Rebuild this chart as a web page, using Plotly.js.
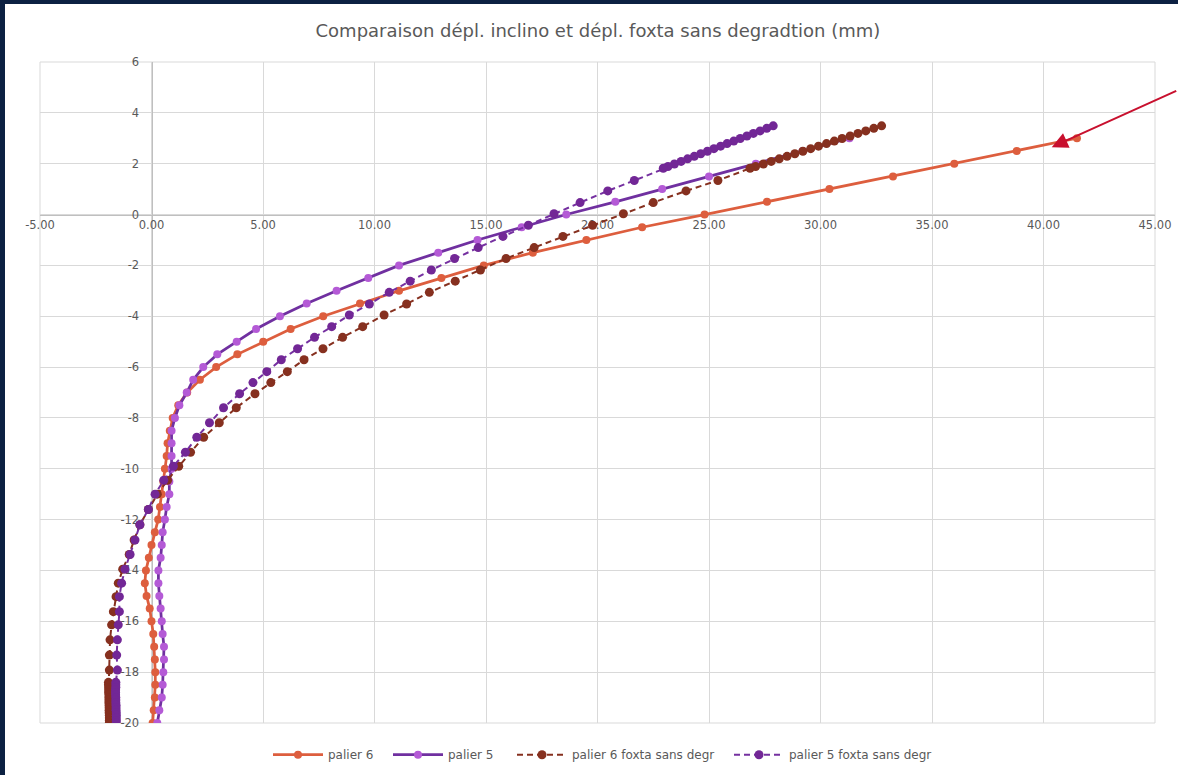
<!DOCTYPE html>
<html>
<head>
<meta charset="utf-8">
<script src="https://cdn.plot.ly/plotly-3.0.1.min.js"></script>
<style>
  html, body { margin: 0; padding: 0; background: #0c2142; }
  #frame { position: relative; width: 1178px; height: 775px; background: #0c2142; overflow: hidden; }
  #chart { position: absolute; left: 5px; top: 4px; width: 1173px; height: 771px; background: #ffffff; }
</style>
</head>
<body>
<div id="frame"><div id="chart"></div></div>
<script>
// ---- Data ----
const seriesNames = ["palier 6", "palier 5", "palier 6 foxta sans degr", "palier 5 foxta sans degr"];

// palier 6 (inclino) : depth (m) and displacement (mm)
const palier6Y = [-20, -19.5, -19, -18.5, -18, -17.5, -17, -16.5, -16, -15.5, -15, -14.5, -14, -13.5, -13, -12.5, -12, -11.5, -11, -10.5, -10, -9.5, -9, -8.5, -8, -7.5, -7, -6.5, -6, -5.5, -5, -4.5, -4, -3.5, -3, -2.5, -2, -1.5, -1, -0.5, 0, 0.5, 1, 1.5, 2, 2.5, 3];
const palier6X = [0.05, 0.1, 0.15, 0.17, 0.17, 0.15, 0.12, 0.08, 0.0, -0.08, -0.22, -0.3, -0.25, -0.12, 0.0, 0.15, 0.3, 0.38, 0.46, 0.53, 0.6, 0.68, 0.72, 0.82, 0.95, 1.2, 1.6, 2.17, 2.9, 3.85, 5.01, 6.24, 7.7, 9.35, 11.1, 13.0, 14.9, 17.1, 19.5, 22.0, 24.8, 27.6, 30.4, 33.25, 36.0, 38.8, 41.5];

// palier 5 (inclino)
const palier5Y = [-20, -19.5, -19, -18.5, -18, -17.5, -17, -16.5, -16, -15.5, -15, -14.5, -14, -13.5, -13, -12.5, -12, -11.5, -11, -10.5, -10, -9.5, -9, -8.5, -8, -7.5, -7, -6.5, -6, -5.5, -5, -4.5, -4, -3.5, -3, -2.5, -2, -1.5, -1, -0.5, 0, 0.5, 1, 1.5, 2, 2.5, 3];
const palier5X = [0.26, 0.35, 0.46, 0.5, 0.53, 0.56, 0.56, 0.5, 0.46, 0.41, 0.35, 0.31, 0.31, 0.41, 0.46, 0.5, 0.6, 0.68, 0.8, 0.8, 0.9, 0.9, 0.9, 0.9, 1.05, 1.25, 1.58, 1.87, 2.32, 2.95, 3.82, 4.69, 5.76, 6.96, 8.3, 9.72, 11.1, 12.86, 14.62, 16.6, 18.6, 20.8, 22.9, 25.0, 27.1, 29.2, 31.3];

// foxta sans dégradation : depths
const foxtaY = [3.49, 3.39, 3.29, 3.19, 3.09, 2.99, 2.89, 2.79, 2.69, 2.59, 2.49, 2.39, 2.29, 2.19, 2.09, 1.99, 1.89, 1.82,
  1.34, 0.93, 0.47, 0.03, -0.42, -0.86, -1.3, -1.73, -2.18, -2.62, -3.06, -3.52, -3.95, -4.41, -4.83, -5.28, -5.71, -6.18, -6.61, -7.05, -7.6, -8.19, -8.76, -9.35, -9.9, -10.45, -11.0, -11.6, -12.2, -12.8, -13.37, -13.95, -14.5, -15.03, -15.62, -16.14, -16.73, -17.33, -17.92,
  -18.4, -18.5, -18.6, -18.7, -18.8, -18.9, -19.0, -19.1, -19.2, -19.3, -19.4, -19.5, -19.6, -19.7, -19.8, -19.9, -20.0];

// palier 6 foxta sans degr
const foxta6X = [32.74, 32.39, 32.03, 31.68, 31.33, 30.97, 30.62, 30.27, 29.91, 29.56, 29.21, 28.85, 28.5, 28.15, 27.79, 27.44, 27.09, 26.84,
  25.4, 23.97, 22.5, 21.16, 19.78, 18.45, 17.16, 15.9, 14.75, 13.62, 12.46, 11.44, 10.43, 9.47, 8.57, 7.69, 6.84, 6.09, 5.35, 4.64, 3.8, 3.04, 2.34, 1.75, 1.22, 0.72, 0.26, -0.14, -0.52, -0.78, -1.0, -1.29, -1.49, -1.59, -1.71, -1.79, -1.86, -1.89, -1.89,
  -1.93, -1.93, -1.92, -1.92, -1.92, -1.91, -1.91, -1.91, -1.91, -1.9, -1.9, -1.9, -1.9, -1.89, -1.89, -1.89, -1.89];

// palier 5 foxta sans degr
const foxta5X = [27.88, 27.59, 27.29, 26.99, 26.7, 26.4, 26.11, 25.81, 25.52, 25.22, 24.93, 24.63, 24.34, 24.04, 23.75, 23.45, 23.16, 22.95,
  21.65, 20.46, 19.22, 18.05, 16.9, 15.76, 14.65, 13.59, 12.55, 11.6, 10.66, 9.77, 8.87, 8.08, 7.31, 6.55, 5.82, 5.17, 4.55, 3.95, 3.23, 2.6, 2.03, 1.52, 0.98, 0.55, 0.16, -0.14, -0.52, -0.74, -0.96, -1.19, -1.34, -1.44, -1.44, -1.49, -1.53, -1.56, -1.53,
  -1.6, -1.6, -1.6, -1.61, -1.61, -1.61, -1.6, -1.6, -1.6, -1.59, -1.59, -1.59, -1.58, -1.58, -1.58, -1.58, -1.58];

// axis ticks
const xTickVals = [-5, 0, 5, 10, 15, 20, 25, 30, 35, 40, 45];
const xTickText = ["-5.00", "0.00", "5.00", "10.00", "15.00", "20.00", "25.00", "30.00", "35.00", "40.00", "45.00"];
const yTickVals = [-20, -18, -16, -14, -12, -10, -8, -6, -4, -2, 0, 2, 4, 6];
const yTickText = ["-20", "-18", "-16", "-14", "-12", "-10", "-8", "-6", "-4", "-2", "0", "2", "4", "6"];

const titleText = "Comparaison dépl. inclino et dépl. foxta sans degradtion (mm)";

// ---- Styles ----
const FONT = "'DejaVu Sans', 'Open Sans', sans-serif";
const GRAY = "#595959";

const traces = [
  { x: palier6X, y: palier6Y, name: seriesNames[0], type: "scatter", mode: "lines+markers", legend: "legend",
    line: { color: "#DD5E3E", width: 2.75 }, marker: { color: "#DD5E3E", size: 8 } },
  { x: palier5X, y: palier5Y, name: seriesNames[1], type: "scatter", mode: "lines+markers", legend: "legend2",
    line: { color: "#7030A0", width: 2.75 }, marker: { color: "#B45AD6", size: 8 } },
  { x: foxta6X, y: foxtaY, name: seriesNames[2], type: "scatter", mode: "lines+markers", legend: "legend3",
    line: { color: "#86301F", width: 2, dash: "6px,4px" }, marker: { color: "#86301F", size: 9 } },
  { x: foxta5X, y: foxtaY, name: seriesNames[3], type: "scatter", mode: "lines+markers", legend: "legend4",
    line: { color: "#7530A0", width: 2, dash: "6px,4px" }, marker: { color: "#722796", size: 9 } }
];

function leg(xpx) {
  // xpx: page x of the legend box left edge; plot area starts at 40 and is 1115 wide
  return { orientation: "h", x: (xpx - 40) / 1115, xanchor: "left", y: -0.048, yanchor: "middle",
           font: { family: FONT, size: 12, color: GRAY }, bgcolor: "rgba(0,0,0,0)", borderwidth: 0,
           itemwidth: 50 };
}

const layout = {
  width: 1173, height: 771,
  margin: { l: 35, r: 23, t: 58, b: 52, autoexpand: false },
  paper_bgcolor: "#ffffff", plot_bgcolor: "#ffffff",
  font: { family: FONT, color: GRAY, size: 11 },
  title: { text: titleText, x: 0.5055, xanchor: "center", y: 0.966, yanchor: "middle",
           font: { family: FONT, size: 18, color: GRAY } },
  showlegend: true,
  legend: leg(268),
  legend2: leg(388),
  legend3: leg(512),
  legend4: leg(729),
  xaxis: {
    range: [-5, 45], tickvals: xTickVals, ticktext: xTickText,
    anchor: "free", position: 20 / 26,
    showline: true, linecolor: "#BFBFBF", linewidth: 1,
    zeroline: false, showgrid: true, gridcolor: "#D9D9D9", gridwidth: 1,
    ticks: "", tickfont: { family: FONT, size: 11.5, color: GRAY },
    layer: "below traces", fixedrange: true
  },
  yaxis: {
    range: [-20, 6], tickvals: yTickVals, ticktext: yTickText,
    anchor: "free", position: 5 / 50, domain: [0, 1],
    showline: true, linecolor: "#BFBFBF", linewidth: 1,
    zeroline: false, showgrid: true, gridcolor: "#D9D9D9", gridwidth: 1,
    ticks: "", ticklabelstandoff: 10, tickfont: { family: FONT, size: 11.5, color: GRAY },
    layer: "below traces", fixedrange: true
  },
  shapes: [
    { type: "rect", xref: "paper", yref: "paper", x0: 0, x1: 1, y0: 0, y1: 1,
      line: { color: "#D9D9D9", width: 1 }, layer: "below" }
  ],
  annotations: [
    { x: 40.37, y: 2.65, xref: "x", yref: "y", text: "", showarrow: true,
      ax: 126, ay: -57, arrowhead: 2, arrowsize: 1.6, arrowwidth: 2, arrowcolor: "#C8102E" }
  ]
};

Plotly.newPlot("chart", traces, layout, { displayModeBar: false, responsive: false });
</script>
</body>
</html>
